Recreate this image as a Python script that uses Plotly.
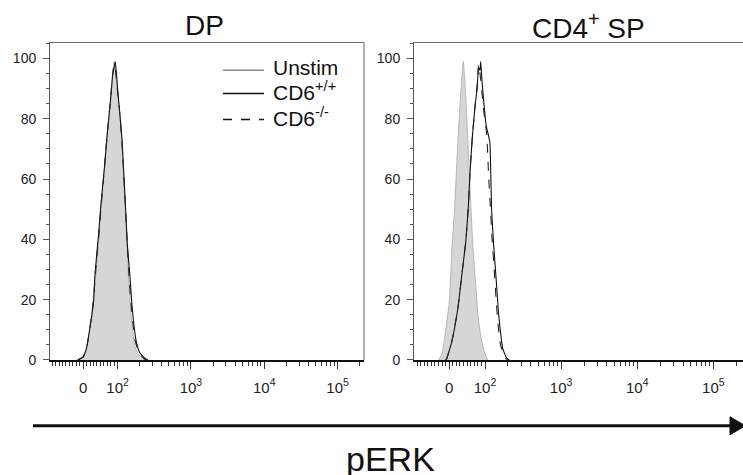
import numpy as np
import plotly.graph_objects as go

# ---------------- data (pERK intensity, % of max) ----------------
dp_unstim_x = [-20, 0, 10, 22, 30, 37, 45, 51, 60, 68, 78, 85, 88, 90, 93, 97, 102, 105, 114, 120, 127, 133, 140, 148, 156, 170, 190, 222, 250]
dp_unstim_y = [0, 0.8, 4, 12, 20, 28.6, 40, 50.6, 62, 72.8, 83.8, 93, 97, 98.8, 96, 92, 86, 83.8, 72.8, 62, 50.6, 40, 28.6, 19, 12, 5, 2, 0.5, 0]

dp_wt_x = [-15, 0, 10, 20, 30, 34, 45, 52, 62, 70, 80, 86, 90, 93, 96, 100, 106, 115, 122, 128, 136, 147, 156, 166, 180, 200, 237, 260]
dp_wt_y = [0, 1, 4, 11, 19, 28, 42, 52, 64, 75, 87, 95, 97, 99, 96, 90, 83, 73, 61, 51, 38, 28, 19, 12, 6, 2.5, 0.5, 0]

dp_ko_x = [-15, 0, 10, 20, 30, 36, 46, 53, 62, 70, 79, 85, 88, 91, 94, 99, 105, 114, 121, 128, 135, 143, 152, 162, 175, 195, 228, 250]
dp_ko_y = [0, 1, 4, 11, 20, 29, 42, 52, 64, 75, 86, 94, 97, 98, 96, 90, 84, 73, 62, 51, 39, 28, 19, 12, 6, 2.5, 0.5, 0]

sp_unstim_x = [-30, -20, -12, 0, 4, 8, 15, 24, 32, 39, 45, 52, 60, 67, 74, 80, 88, 97, 108]
sp_unstim_y = [0, 2, 8, 19, 28, 38, 50, 72, 88, 99, 90, 73, 52, 36, 25, 15, 8, 3, 0]

sp_wt_x = [-10, -7, 7, 24, 35, 46, 53, 58, 64, 72, 78, 82, 86, 88, 92, 97, 102, 105, 110, 116, 122, 130, 139, 150, 157, 170, 193, 210]
sp_wt_y = [0, 0.5, 6, 17, 28, 39, 50, 62, 73, 84, 90, 97, 96, 99, 92, 85, 79, 77, 75, 72, 50, 38, 28, 16, 11, 4, 0.5, 0]

sp_ko_x = [-10, -7, 7, 24, 35, 46, 53, 58, 64, 72, 78, 82, 85, 88, 92, 97, 102, 106, 112, 118, 124, 132, 140, 148, 160, 185, 205]
sp_ko_y = [0, 0.5, 6, 17, 28, 39, 50, 62, 73, 84, 91, 98, 96, 93, 88, 82, 78, 74, 60, 50, 40, 30, 20, 12, 5, 0.5, 0]

x_tick_values = [0, 100, 1000, 10000, 100000]
x_tick_labels = ["0", "10<sup>2</sup>", "10<sup>3</sup>", "10<sup>4</sup>", "10<sup>5</sup>"]
x_minor_values = ([-v for v in range(10, 100, 10)] + list(range(10, 100, 10))
                  + [m * 10 ** e for e in (2, 3, 4) for m in range(2, 10)] + [200000])
y_tick_values = [0, 20, 40, 60, 80, 100]

panel_titles = ["DP", "CD4<sup>+</sup> SP"]
legend_labels = ["Unstim", "CD6<sup>+/+</sup>", "CD6<sup>-/-</sup>"]
axis_label = "pERK"


def to_disp(v):
    """Biexponential-like display transform: linear below 100, log10 above."""
    v = np.asarray(v, dtype=float)
    return np.where(v >= 100, np.log10(np.maximum(v, 100)), 2 - 0.47 * (100 - v) / 100)


FONT = "Arial, Liberation Sans, sans-serif"
fig = go.Figure()

panels = [
    ("x", "y", (dp_unstim_x, dp_unstim_y), (dp_wt_x, dp_wt_y), (dp_ko_x, dp_ko_y)),
    ("x2", "y2", (sp_unstim_x, sp_unstim_y), (sp_wt_x, sp_wt_y), (sp_ko_x, sp_ko_y)),
]
for xa, ya, un, wt, ko in panels:
    fig.add_trace(go.Scatter(x=to_disp(un[0]), y=un[1], xaxis=xa, yaxis=ya, mode="lines",
                             line=dict(color="#b4b4b4", width=1, shape="spline", smoothing=0.4),
                             fill="tozeroy", fillcolor="#d6d6d6", hoverinfo="skip"))
    fig.add_trace(go.Scatter(x=to_disp(wt[0]), y=wt[1], xaxis=xa, yaxis=ya, mode="lines",
                             line=dict(color="#111111", width=1.1, shape="spline", smoothing=0.4),
                             hoverinfo="skip"))
    fig.add_trace(go.Scatter(x=to_disp(ko[0]), y=ko[1], xaxis=xa, yaxis=ya, mode="lines",
                             line=dict(color="#222222", width=1.1, dash="dash", shape="spline", smoothing=0.4),
                             hoverinfo="skip"))

ydom = [0.2453, 0.911]
common_x = dict(tickvals=to_disp(x_tick_values).tolist(), ticktext=x_tick_labels, tickmode="array",
                showline=True, linecolor="#111111", linewidth=1.5, ticks="outside", ticklen=7,
                tickcolor="#333333", tickwidth=1, tickfont=dict(family=FONT, size=15, color="#222222"),
                ticklabelstandoff=6, showgrid=False, zeroline=False,
                minor=dict(tickmode="array", tickvals=to_disp(x_minor_values).tolist(),
                           ticks="outside", ticklen=4, tickcolor="#333333", tickwidth=1, showgrid=False))
common_y = dict(domain=ydom, range=[0, 105.3], tickvals=y_tick_values, tickmode="array",
                showline=True, linecolor="#555555", linewidth=1, ticks="outside", ticklen=6,
                tickcolor="#555555", tickfont=dict(family=FONT, size=14, color="#222222"),
                ticklabelstandoff=4, showgrid=False, zeroline=False,
                minor=dict(dtick=5, ticks="outside", ticklen=3, tickcolor="#555555", showgrid=False))

fig.update_layout(
    width=743, height=485, margin=dict(l=0, r=0, t=0, b=0),
    paper_bgcolor="white", plot_bgcolor="white", showlegend=False,
    xaxis=dict(domain=[0.0673, 0.4899], range=[1.078, 5.36], anchor="y", **common_x),
    yaxis=dict(anchor="x", **common_y),
    xaxis2=dict(domain=[0.5572, 1.0], range=[1.067, 5.39], anchor="y2", **common_x),
    yaxis2=dict(anchor="x2", **common_y),
)

shapes = []
# panel borders (top and right for left panel, top for right panel)
for xr, yr in (("x domain", "y domain"), ("x2 domain", "y2 domain")):
    shapes.append(dict(type="line", xref=xr, yref=yr, x0=0, x1=1, y0=1, y1=1,
                       line=dict(color="#666666", width=1)))
shapes.append(dict(type="line", xref="x domain", yref="y domain", x0=1, x1=1, y0=0, y1=1,
                   line=dict(color="#666666", width=1)))
# legend swatches
leg_styles = [dict(color="#888888", width=1.5), dict(color="#111111", width=1.5),
              dict(color="#111111", width=1.5, dash="dash")]
leg_rows = [0.8526, 0.8042, 0.7495]
for st, yy in zip(leg_styles, leg_rows):
    shapes.append(dict(type="line", xref="paper", yref="paper", x0=0.3001, x1=0.3553,
                       y0=yy, y1=yy, line=st))
# pERK arrow
shapes.append(dict(type="line", xref="paper", yref="paper", x0=0.0444, x1=0.985, y0=0.1074, y1=0.1074,
                   line=dict(color="#111111", width=3)))
shapes.append(dict(type="path", xref="paper", yref="paper",
                   path="M 0.9825 0.1263 L 1.003 0.1074 L 0.9825 0.0884 Z",
                   fillcolor="#111111", line=dict(color="#111111", width=1)))
fig.update_layout(shapes=shapes)

annotations = []
for t, xx in zip(panel_titles, [0.2759, 0.7914]):
    annotations.append(dict(text=t, x=xx, y=0.9465, xref="paper", yref="paper", showarrow=False,
                            xanchor="center", yanchor="middle", font=dict(family=FONT, size=28, color="#111111")))
for t, yy in zip(legend_labels, [0.8589, 0.8084, 0.7537]):
    annotations.append(dict(text=t, x=0.3647, y=yy, xref="paper", yref="paper", showarrow=False,
                            xanchor="left", yanchor="middle", font=dict(family=FONT, size=21, color="#111111")))
annotations.append(dict(text=axis_label, x=0.525, y=0.037, xref="paper", yref="paper", showarrow=False,
                        xanchor="center", yanchor="middle", font=dict(family=FONT, size=34, color="#111111")))
fig.update_layout(annotations=annotations)

fig.write_html("out.html", config={"displayModeBar": False},
               post_script="document.body.style.margin='0';document.body.style.overflow='hidden';")
